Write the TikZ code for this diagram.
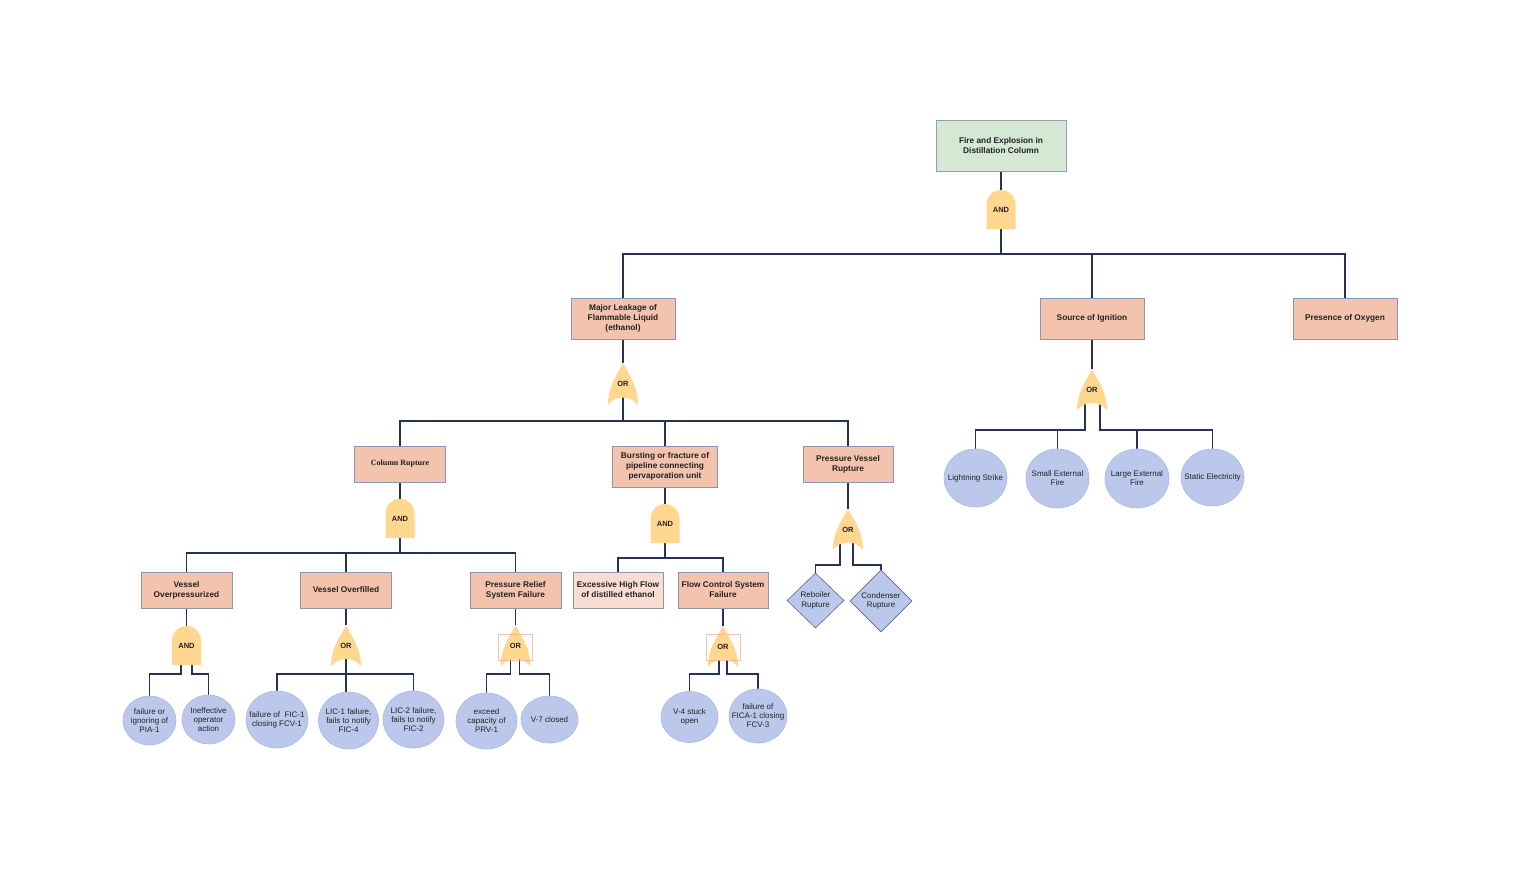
\documentclass[tikz,border=0pt]{standalone}
\usepackage{fontspec}
\setmainfont{Liberation Sans}
\newfontfamily\serifbox{Liberation Serif}
\usetikzlibrary{shapes.geometric, backgrounds}

\definecolor{boxfill}{HTML}{F4C3AD}
\definecolor{boxpale}{HTML}{F9DDD3}
\definecolor{boxline}{HTML}{8C95B2}
\definecolor{topfill}{HTML}{D5E8D4}
\definecolor{topline}{HTML}{8FA0AC}
\definecolor{gatefill}{HTML}{FFD78E}
\definecolor{basicfill}{HTML}{BCC8EB}
\definecolor{basicline}{HTML}{A9B7E4}
\definecolor{diamline}{HTML}{5C6A8C}
\definecolor{edgecol}{HTML}{263354}
\definecolor{textcol}{HTML}{222222}
\definecolor{selcol}{HTML}{F4B49A}

\begin{document}
\begin{tikzpicture}[x=1pt, y=-1pt,
        event/.style={draw=boxline, fill=boxfill, line width=0.7pt, align=center, inner sep=1pt, text=textcol, font=\bfseries\fontsize{8.3}{10}\selectfont},
        topevent/.style={event, draw=topline, fill=topfill},
        gate/.style={inner sep=0pt, text=textcol, font=\bfseries\fontsize{7.5}{9}\selectfont},
        andgate/.style={gate, minimum width=29pt, minimum height=39pt,
            path picture={\fill[gatefill] (path picture bounding box.south west) -- ([yshift=-14.5pt]path picture bounding box.north west) .. controls +(0pt,8pt) and +(-8pt,0pt) .. (path picture bounding box.north) .. controls +(8pt,0pt) and +(0pt,8pt) .. ([yshift=-14.5pt]path picture bounding box.north east) -- (path picture bounding box.south east) -- cycle;}},
        orgate/.style={gate, minimum width=30pt, minimum height=41pt,
            path picture={\fill[gatefill] (path picture bounding box.south west) .. controls +(0pt,16pt) and +(-9pt,-16pt) .. (path picture bounding box.north) .. controls +(9pt,-16pt) and +(0pt,16pt) .. (path picture bounding box.south east) .. controls +(-7pt,10pt) and +(7pt,10pt) .. (path picture bounding box.south west) -- cycle;}},
        basic/.style={ellipse, draw=basicline, fill=basicfill, line width=0.6pt, inner sep=-30pt, align=center, text=textcol, font=\fontsize{8}{9}\selectfont},
        undev/.style={diamond, draw=diamline, fill=basicfill, line width=0.6pt, inner sep=-30pt, align=center, text=textcol, font=\fontsize{8}{9.5}\selectfont},
        edge/.style={draw=edgecol, line width=1.4pt},
        selbox/.style={draw=selcol, line width=0.5pt, opacity=0.8}
    ]

    \useasboundingbox (0,0) rectangle (1516,872);

    % Ereignisse
    \node[topevent, minimum width=130pt, minimum height=51pt] (top) at (1001,146) {Fire and Explosion in\\Distillation Column};
    \node[event, minimum width=104pt, minimum height=41pt] (leak) at (623,318.5) {Major Leakage of\\Flammable Liquid\\(ethanol)};
    \node[event, minimum width=104pt, minimum height=41pt] (ignition) at (1092,318.5) {Source of Ignition};
    \node[event, minimum width=104pt, minimum height=41pt] (oxygen) at (1345,318.5) {Presence of Oxygen};
    \node[event, minimum width=91pt, minimum height=36pt, font=\serifbox\bfseries\fontsize{8}{10}\selectfont] (colrup) at (400,464) {Column Rupture};
    \node[event, minimum width=105pt, minimum height=41pt] (burst) at (665,466.5) {Bursting or fracture of\\pipeline connecting\\pervaporation unit};
    \node[event, minimum width=90pt, minimum height=36pt] (pvrup) at (848,464) {Pressure Vessel\\Rupture};
    \node[event, minimum width=91pt, minimum height=36pt] (overp) at (186.5,590) {Vessel\\Overpressurized};
    \node[event, minimum width=91pt, minimum height=36pt] (overf) at (346,590) {Vessel Overfilled};
    \node[event, minimum width=91pt, minimum height=36pt] (relief) at (515.5,590) {Pressure Relief\\System Failure};
    \node[event, minimum width=90pt, minimum height=36pt, fill=boxpale] (highflow) at (618,590) {Excessive High Flow\\of distilled ethanol};
    \node[event, minimum width=90pt, minimum height=36pt] (flowctl) at (723,590) {Flow Control System\\Failure};

    % Gatter
    \node[andgate] (gtop) at (1001,209.5) {AND};
    \node[orgate, minimum height=42pt] (gleak) at (623,384) {OR};
    \node[orgate] (gign) at (1092,390) {OR};
    \node[andgate] (gcol) at (400,518.5) {AND};
    \node[andgate] (gburst) at (665,523.5) {AND};
    \node[orgate] (gpv) at (848,529.5) {OR};
    \node[andgate] (gover) at (186.5,645.5) {AND};
    \node[orgate] (gfill) at (346,646) {OR};
    \node[orgate] (grel) at (515.5,646) {OR};
    \node[orgate] (gflow) at (723,646.5) {OR};

    % Basisereignisse
    \node[basic, minimum width=53pt, minimum height=49pt] (pia) at (149.5,720.5) {failure or\\ignoring of\\PIA-1};
    \node[basic, minimum width=53pt, minimum height=49pt] (oper) at (208.5,719.5) {Ineffective\\operator\\action};
    \node[basic, minimum width=62pt, minimum height=57pt] (fic) at (277,719.5) {failure of~ FIC-1\\closing FCV-1};
    \node[basic, minimum width=60pt, minimum height=57pt] (licone) at (348.5,720.5) {LIC-1 failure,\\fails to notify\\FIC-4};
    \node[basic, minimum width=61pt, minimum height=57pt] (lictwo) at (413.5,719.5) {LIC-2 failure,\\fails to notify\\FIC-2};
    \node[basic, minimum width=61pt, minimum height=56pt] (prv) at (486.5,721) {exceed\\capacity of\\PRV-1};
    \node[basic, minimum width=57pt, minimum height=47pt] (vseven) at (549.5,719.5) {V-7 closed};
    \node[basic, minimum width=57pt, minimum height=51pt] (vfour) at (689.5,717) {V-4 stuck\\open};
    \node[basic, minimum width=58pt, minimum height=54pt] (fica) at (758,716) {failure of\\FICA-1 closing\\FCV-3};
    \node[undev, minimum width=57pt, minimum height=55pt] (reb) at (815.5,600.5) {Reboiler\\Rupture};
    \node[undev, minimum width=62pt, minimum height=62pt] (cond) at (881,601) {Condenser\\Rupture};
    \node[basic, minimum width=63pt, minimum height=58pt] (light) at (975.5,478) {Lightning Strike};
    \node[basic, minimum width=63pt, minimum height=59pt] (smallfire) at (1057.5,478.5) {Small External\\Fire};
    \node[basic, minimum width=64pt, minimum height=59pt] (largefire) at (1137,478.5) {Large External\\Fire};
    \node[basic, minimum width=63pt, minimum height=57pt] (static) at (1212.5,477.5) {Static Electricity};

    % Kanten
    \begin{scope}[on background layer]
        \fill[white] (0,0) rectangle (1516,872);

        \draw[edge] (top.south) -- (gtop.north);
        \draw[edge] (gtop.center) -- ++(0,44.5) coordinate (btop);
        \draw[edge] (leak.north) |- (btop) -| (oxygen.north);
        \draw[edge] (ignition.north) -- (ignition.north |- btop);

        \draw[edge] (leak.south) -- (gleak.north);
        \draw[edge] (gleak.center) -- ++(0,37) coordinate (bleak);
        \draw[edge] (colrup.north) |- (bleak) -| (pvrup.north);
        \draw[edge] (burst.north) -- (burst.north |- bleak);

        \draw[edge] (ignition.south) -- (gign.north);
        \draw[edge] ([xshift=-7pt]gign.center) -- ++(0,40) coordinate (bignl) -| (light.north);
        \draw[edge] (smallfire.north) -- (smallfire.north |- bignl);
        \draw[edge] ([xshift=8pt]gign.center) -- ++(0,40) coordinate (bignr) -| (static.north);
        \draw[edge] (largefire.north) -- (largefire.north |- bignr);

        \draw[edge] (colrup.south) -- (gcol.north);
        \draw[edge] (gcol.center) -- ++(0,34.5) coordinate (bcol);
        \draw[edge] (overp.north) |- (bcol) -| (relief.north);
        \draw[edge] (overf.north) -- (overf.north |- bcol);

        \draw[edge] (burst.south) -- (gburst.north);
        \draw[edge] (gburst.center) -- ++(0,34.5) coordinate (bburst);
        \draw[edge] (highflow.north) |- (bburst) -| (flowctl.north);

        \draw[edge] (pvrup.south) -- (gpv.north);
        \draw[edge] ([xshift=-8pt]gpv.center) -- ++(0,35.5) -| (reb.north);
        \draw[edge] ([xshift=5pt]gpv.center) -- ++(0,35.5) -| (cond.north);

        \draw[edge] (overp.south) -- (gover.north);
        \draw[edge] ([xshift=-5.5pt]gover.center) -- ++(0,28.5) -| (pia.north);
        \draw[edge] ([xshift=5.5pt]gover.center) -- ++(0,28.5) -| (oper.north);

        \draw[edge] (overf.south) -- (gfill.north);
        \draw[edge] (gfill.center) -- ++(0,28) coordinate (bfill);
        \draw[edge] (fic.north) |- (bfill) -| (lictwo.north);
        \draw[edge] (bfill) -- (bfill |- licone.north);

        \draw[edge] (relief.south) -- (grel.north);
        \draw[edge] ([xshift=-5pt]grel.center) -- ++(0,28) -| (prv.north);
        \draw[edge] ([xshift=4pt]grel.center) -- ++(0,28) -| (vseven.north);

        \draw[edge] (flowctl.south) -- (gflow.north);
        \draw[edge] ([xshift=-4pt]gflow.center) -- ++(0,27.5) -| (vfour.north);
        \draw[edge] ([xshift=4pt]gflow.center) -- ++(0,27.5) -| (fica.north);
    \end{scope}

    % Markierungen
    \draw[selbox] (grel.center) +(-17,-12) rectangle +(17,14);
    \draw[selbox] (gflow.center) +(-17,-12.5) rectangle +(17,13.5);

\end{tikzpicture}
\end{document}
